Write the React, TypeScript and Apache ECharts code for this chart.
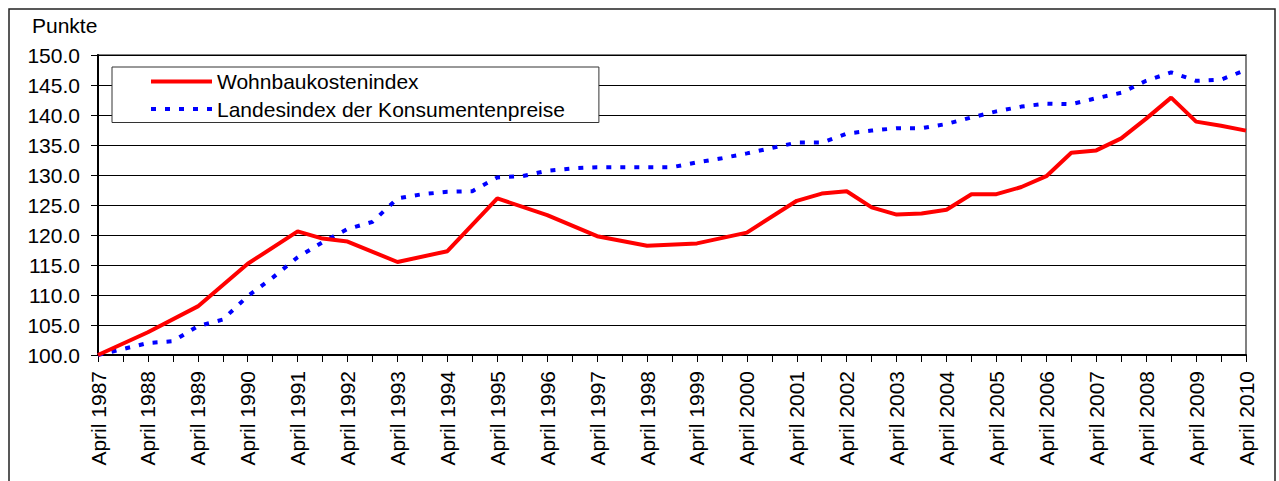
import React, { useEffect, useRef } from "react";
import * as echarts from "echarts";

const years: number[] = [1987, 1988, 1989, 1990, 1991, 1992, 1993, 1994, 1995, 1996, 1997, 1998, 1999, 2000, 2001, 2002, 2003, 2004, 2005, 2006, 2007, 2008, 2009, 2010];

// half-yearly categories: April and Oktober
const categories: string[] = [];
years.forEach((y, i) => {
  categories.push("April " + y);
  if (i < years.length - 1) categories.push("Oktober " + y);
});

const seriesNames = ["Wohnbaukostenindex", "Landesindex der Konsumentenpreise"];

const wohnbau: (number | null)[] = [
  100.0, null, 103.8, null, 108.1, null, 115.2, null, 120.6, 119.4,
  118.9, null, 115.5, null, 117.3, null, 126.1, null, 123.3, null,
  119.8, null, 118.2, null, 118.6, null, 120.4, null, 125.7, 126.9,
  127.3, 124.6, 123.4, 123.6, 124.2, 126.8, 126.8, 128.0, 129.8, 133.7,
  134.1, 136.1, 139.4, 142.9, 138.9, 138.2, 137.4,
];

const landesindex: number[] = [
  100.0, 101.0, 102.0, 102.3, 104.8, 105.9, 109.8, 112.9, 116.3, 118.8,
  121.0, 122.2, 126.1, 126.8, 127.2, 127.3, 129.6, 129.8, 130.7, 131.1,
  131.3, 131.3, 131.3, 131.3, 132.1, 132.8, 133.6, 134.5, 135.4, 135.4,
  136.9, 137.4, 137.8, 137.8, 138.5, 139.6, 140.6, 141.4, 141.9, 141.8,
  142.8, 143.7, 145.7, 147.1, 145.7, 145.9, 147.5,
];

const yMin = 100;
const yMax = 150;
const yStep = 5;
const yTitle = "Punkte";

export default function App() {
  const ref = useRef<HTMLDivElement>(null);
  useEffect(() => {
    if (!ref.current) return;
    const chart = echarts.init(ref.current, null, { renderer: "svg" });
    const font = "Liberation Sans, Arial, sans-serif";
    chart.setOption({
      animation: false,
      backgroundColor: "#ffffff",
      textStyle: { fontFamily: font },
      grid: {
        left: 98,
        right: 33,
        top: 55,
        bottom: 126,
        show: true,
        borderColor: "#808080",
        borderWidth: 2,
        backgroundColor: "transparent",
      },
      graphic: [
        {
          type: "rect",
          shape: { x: 9, y: 9, width: 1266, height: 500 },
          style: { fill: "none", stroke: "#222", lineWidth: 1.5 },
          silent: true,
          z: -1,
        },
        {
          type: "text",
          x: 32,
          y: 25,
          style: {
            text: yTitle,
            fontSize: 21,
            fontFamily: font,
            fill: "#000",
            align: "left",
            verticalAlign: "middle",
          },
        },
      ],
      legend: {
        left: 112,
        top: 67,
        orient: "vertical",
        backgroundColor: "#ffffff",
        borderColor: "#333",
        borderWidth: 1,
        borderRadius: 0,
        padding: [4, 34, 3, 37],
        itemWidth: 61,
        itemHeight: 21,
        itemGap: 6.5,
        itemStyle: { opacity: 0 },
        data: [
          { name: seriesNames[0], lineStyle: { width: 4 } },
          { name: seriesNames[1], lineStyle: { width: 4 } },
        ],
        textStyle: { fontSize: 21, color: "#000", fontFamily: font },
        z: 10,
      },
      xAxis: {
        type: "category",
        data: categories,
        boundaryGap: false,
        axisLine: { lineStyle: { color: "#000", width: 2 } },
        axisTick: { show: true, interval: 0, length: 7, lineStyle: { color: "#000", width: 1 } },
        axisLabel: {
          interval: 1,
          rotate: 90,
          margin: 16,
          fontSize: 21,
          color: "#000",
          fontFamily: font,
        },
        splitLine: { show: false },
      },
      yAxis: {
        type: "value",
        min: yMin,
        max: yMax,
        interval: yStep,
        axisLine: { show: true, lineStyle: { color: "#000", width: 2 } },
        axisTick: { show: true, length: 7, lineStyle: { color: "#000", width: 1 } },
        axisLabel: {
          margin: 18,
          fontSize: 21,
          color: "#000",
          fontFamily: font,
          formatter: (v: number) => v.toFixed(1),
        },
        splitLine: { show: true, lineStyle: { color: "#000", width: 1 } },
      },
      series: [
        {
          name: seriesNames[0],
          type: "line",
          data: wohnbau,
          connectNulls: true,
          symbol: "none",
          lineStyle: { color: "#ff0000", width: 4 },
          itemStyle: { color: "#ff0000" },
          z: 3,
        },
        {
          name: seriesNames[1],
          type: "line",
          data: landesindex,
          symbol: "none",
          lineStyle: { color: "#0000ff", width: 4, type: [5, 9] },
          itemStyle: { color: "#0000ff" },
          z: 2,
        },
      ],
    });
    return () => chart.dispose();
  }, []);
  return (
    <div
      ref={ref}
      style={{ position: "fixed", left: 0, top: 0, width: 1279, height: 481 }}
    />
  );
}
